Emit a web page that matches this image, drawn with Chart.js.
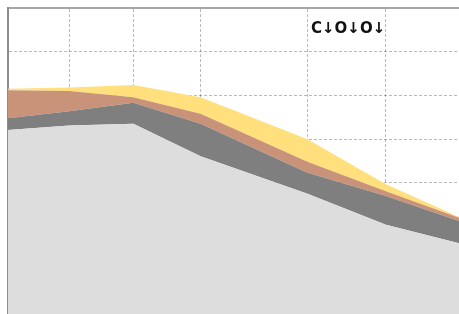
<!DOCTYPE html>
<html lang="en">
<head>
  <meta charset="UTF-8">
  <title>C O O</title>
  <script src="https://cdn.jsdelivr.net/npm/chart.js"></script>
  <style>
      body { margin: 0; background: #fff; }
      #wrap { position: relative; width: 459px; height: 314px; }
      #label {
          position: absolute;
          left: 311px;
          top: 19px;
          font-family: "DejaVu Sans", sans-serif;
          font-weight: bold;
          font-size: 15px;
          color: #111;
          white-space: nowrap;
      }
  </style>
</head>
<body>

<div id="wrap">
  <canvas id="chart"></canvas>
  <div id="label">C↓O↓O↓</div>
</div>

<script>
// x positions of the points (arbitrary units, 0..10)
const xValues = [0, 1.36, 2.78, 4.27, 6.64, 8.38, 10];

// stacked layers, bottom to top
const lightGrey = [4.21, 4.31, 4.35, 3.61, 2.75, 2.04, 1.62];
const darkGrey  = [0.27, 0.33, 0.48, 0.74, 0.48, 0.66, 0.51];
const brown     = [0.64, 0.46, 0.13, 0.23, 0.25, 0.11, 0.07];
const yellow    = [0.03, 0.08, 0.28, 0.38, 0.52, 0.16, 0.02];

const yMax = 7;

function pts(vals) {
  return vals.map((v, i) => ({ x: xValues[i], y: v }));
}

function layer(vals, color, fill) {
  return {
    data: pts(vals),
    backgroundColor: color,
    borderWidth: 0,
    pointRadius: 0,
    tension: 0,
    fill: fill
  };
}

const gridColor = 'rgba(0,0,0,0.27)';

new Chart(document.getElementById('chart'), {
  type: 'line',
  data: {
    datasets: [
      layer(lightGrey, '#dddddd', 'origin'),
      layer(darkGrey, '#7f7f7f', '-1'),
      layer(brown, '#c9937a', '-1'),
      layer(yellow, '#ffe07c', '-1')
    ]
  },
  options: {
    responsive: true,
    maintainAspectRatio: false,
    animation: false,
    layout: { padding: { left: 8, top: 8, right: 0, bottom: 0 } },
    plugins: { legend: { display: false }, tooltip: { enabled: false } },
    scales: {
      x: {
        type: 'linear',
        position: 'top',
        min: xValues[0],
        max: xValues[xValues.length - 1],
        z: 1,
        afterBuildTicks: axis => { axis.ticks = xValues.map(v => ({ value: v })); },
        ticks: { display: false },
        grid: {
          drawTicks: false,
          color: c => (c.index === 0 || c.index === xValues.length - 1) ? 'transparent' : gridColor
        },
        border: { display: true, color: '#a6a6a6', width: 2, dash: [3, 2] }
      },
      y: {
        stacked: true,
        min: 0,
        max: yMax,
        z: 1,
        ticks: { display: false, stepSize: 1 },
        grid: {
          drawTicks: false,
          color: c => (c.tick && (c.tick.value === 0 || c.tick.value === yMax)) ? 'transparent' : gridColor
        },
        border: { display: true, color: '#8c8c8c', width: 2, dash: [3, 2] }
      }
    }
  }
});
</script>

</body>
</html>
